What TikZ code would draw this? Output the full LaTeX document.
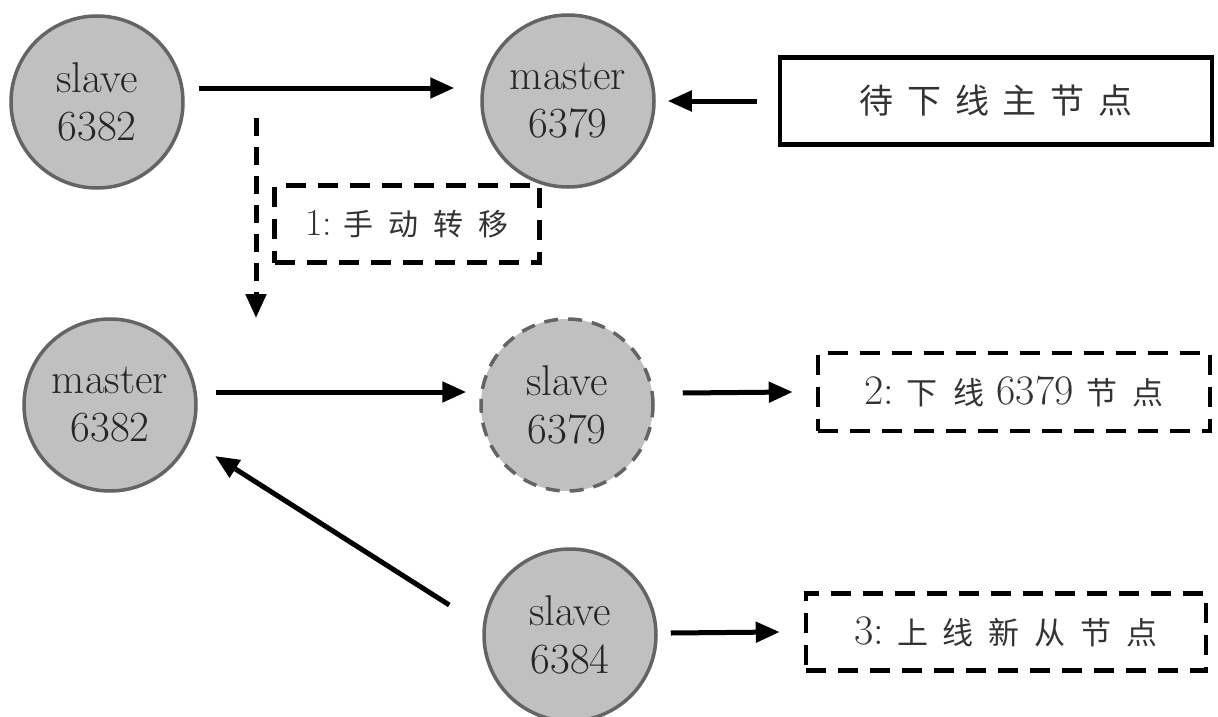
\documentclass[tikz,border=0pt]{standalone}
\usepackage{fontspec}
\usepackage{xcolor}
\usepackage{tikz}
\usetikzlibrary{arrows.meta,positioning,calc}
\newfontfamily\cjk{Noto Sans CJK SC}
\definecolor{nodegray}{RGB}{192,192,192}
\definecolor{rimgray}{RGB}{100,100,100}

\begin{document}
\begin{tikzpicture}[x=1pt,y=-1pt,
    redis/.style={circle,fill=nodegray,draw=rimgray,line width=3.5pt,minimum size=172pt,
        inner sep=0pt,align=center,text=black!85,font=\fontsize{43}{48}\selectfont},
    flow/.style={line width=5pt,-{Triangle[length=24pt,width=20pt]}},
    note/.style={draw,line width=4.5pt,inner sep=0pt,text=black!80},
    dashnote/.style={note,dash pattern=on 20pt off 12pt}]
    \useasboundingbox (0,0) rectangle (1218,717);

    % redis instances
    \node[redis] (s6382) at (97,102) {slave\\6382};
    \node[redis] (m6379) at (568,101) {master\\6379};
    \node[redis] (m6382) at (110,405) {master\\6382};
    \node[redis,dash pattern=on 14pt off 10pt] (s6379) at (567,405) {slave\\6379};
    \node[redis] (s6384) at (570,635) {slave\\6384};

    % notes
    \node[note,minimum width=432pt,minimum height=87pt] (offline) at (996,101)
        {\cjk\fontsize{34}{40}\selectfont\addfontfeature{LetterSpace=41}待下线主节点};
    \node[dashnote,minimum width=265pt,minimum height=77pt] (step1) at (407,224)
        {\fontsize{38}{42}\selectfont 1:~{\cjk\fontsize{30}{36}\selectfont\addfontfeature{LetterSpace=50}手动转移}};
    \node[dashnote,minimum width=392pt,minimum height=78pt] (step2) at (1014,392)
        {\fontsize{42}{46}\selectfont 2:~{\cjk\fontsize{31}{36}\selectfont\addfontfeature{LetterSpace=50}下线}~6379~{\cjk\fontsize{31}{36}\selectfont\addfontfeature{LetterSpace=50}节点}};
    \node[dashnote,minimum width=400pt,minimum height=77pt] (step3) at (1006,632)
        {\fontsize{42}{46}\selectfont 3:~{\cjk\fontsize{31}{36}\selectfont\addfontfeature{LetterSpace=48}上线新从节点}};

    % manual failover
    \coordinate (swapTop) at (256,118);
    \coordinate (swapEnd) at (256,318);
    \draw[flow,dash pattern=on 18pt off 11pt] (swapTop) -- (swapEnd);

    % replication
    \draw[flow] ([xshift=14pt,yshift=14pt]s6382.east) -- ([xshift=-26pt,yshift=13pt]m6379.west);
    \draw[flow] ([xshift=-21pt]offline.west) -- ([xshift=12pt]m6379.east);
    \draw[flow] ([xshift=18pt,yshift=13pt]m6382.east) -- ([xshift=-13pt,yshift=13pt]s6379.west);
    \draw[flow] ([xshift=28pt,yshift=12pt]s6379.east) -- ([xshift=-23pt]step2.west);
    \draw[flow] ([xshift=-33pt,yshift=30pt]s6384.west) -- ([xshift=43pt,yshift=11pt]m6382.south east);
    \draw[flow] ([xshift=13pt,yshift=2pt]s6384.east) -- ([xshift=-24pt]step3.west);
\end{tikzpicture}
\end{document}
